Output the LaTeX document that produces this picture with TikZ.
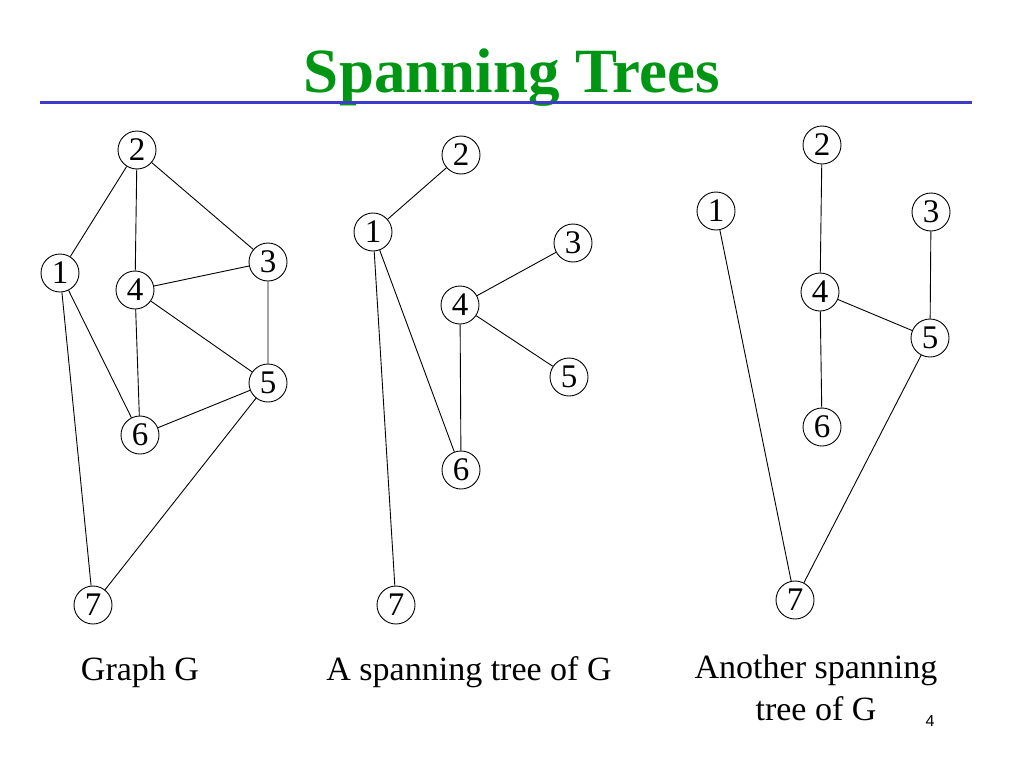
\documentclass[tikz,border=0pt]{standalone}
\usepackage{fontspec}
\setmainfont{Liberation Serif}
\newfontfamily\pagefont{Liberation Sans}
\usetikzlibrary{positioning}
\definecolor{titlegreen}{RGB}{0,150,20}
\definecolor{rulerblue}{RGB}{60,60,200}
\tikzset{
	vertex/.style={draw, circle, minimum size=38pt, inner sep=0pt, font=\fontsize{33}{33}\selectfont}, % the numbered vertices
	caption/.style={anchor=base, align=center, font=\fontsize{34}{42}\selectfont}, % text under each graph
	every path/.style={line width=0.9pt},
}
\begin{document}
\begin{tikzpicture}[x=1pt, y=-1pt]
	\useasboundingbox (0,0) rectangle (1024,768);
	% title and ruler
	\node[anchor=base, text=titlegreen, font=\fontsize{63}{63}\selectfont\bfseries] (title) at (512,92) {Spanning Trees};
	\coordinate (rulel) at (40,102);
	\coordinate (ruler) at (972,102);
	\draw[rulerblue, line width=3pt] (rulel) -- (ruler);

	% graph G
	\node[vertex] (g1) at (60,273) {1};
	\node[vertex] (g2) at (137,150) {2};
	\node[vertex] (g3) at (268,262) {3};
	\node[vertex] (g4) at (135,290) {4};
	\node[vertex] (g5) at (268,383) {5};
	\node[vertex] (g6) at (140,435) {6};
	\node[vertex] (g7) at (93,605) {7};
	\draw 	(g2) -- (g1)
			(g2) -- (g4)
			(g2) -- (g3)
			(g4) -- (g3)
			(g1) -- (g6)
			(g1) -- (g7)
			(g4) -- (g6)
			(g4) -- (g5)
			(g3) -- (g5)
			(g5) -- (g6)
			(g5) -- (g7);

	% first spanning tree
	\node[vertex] (a1) at (373,232) {1};
	\node[vertex] (a2) at (461,155) {2};
	\node[vertex] (a3) at (573,243) {3};
	\node[vertex] (a4) at (460,305) {4};
	\node[vertex] (a5) at (569,377) {5};
	\node[vertex] (a6) at (461,470) {6};
	\node[vertex] (a7) at (396,605) {7};
	\draw 	(a2) -- (a1)
			(a1) -- (a7)
			(a1) -- (a6)
			(a4) -- (a3)
			(a4) -- (a5)
			(a4) -- (a6);

	% second spanning tree
	\node[vertex] (b1) at (716,211) {1};
	\node[vertex] (b2) at (822,145) {2};
	\node[vertex] (b3) at (931,212) {3};
	\node[vertex] (b4) at (820,292) {4};
	\node[vertex] (b5) at (930,338) {5};
	\node[vertex] (b6) at (822,427) {6};
	\node[vertex] (b7) at (795,600) {7};
	\draw 	(b2) -- (b4)
			(b4) -- (b5)
			(b3) -- (b5)
			(b4) -- (b6)
			(b1) -- (b7)
			(b5) -- (b7);

	% captions
	\node[caption] (capg) at (140,680) {Graph G};
	\node[caption] (capa) at (469,680) {A spanning tree of G};
	\node[caption, anchor=north] (capb) at (816,651) {Another spanning\\tree of G};
	\node[anchor=base, font=\pagefont\fontsize{16}{16}\selectfont] (pagenum) at (930,726) {4};
\end{tikzpicture}
\end{document}
